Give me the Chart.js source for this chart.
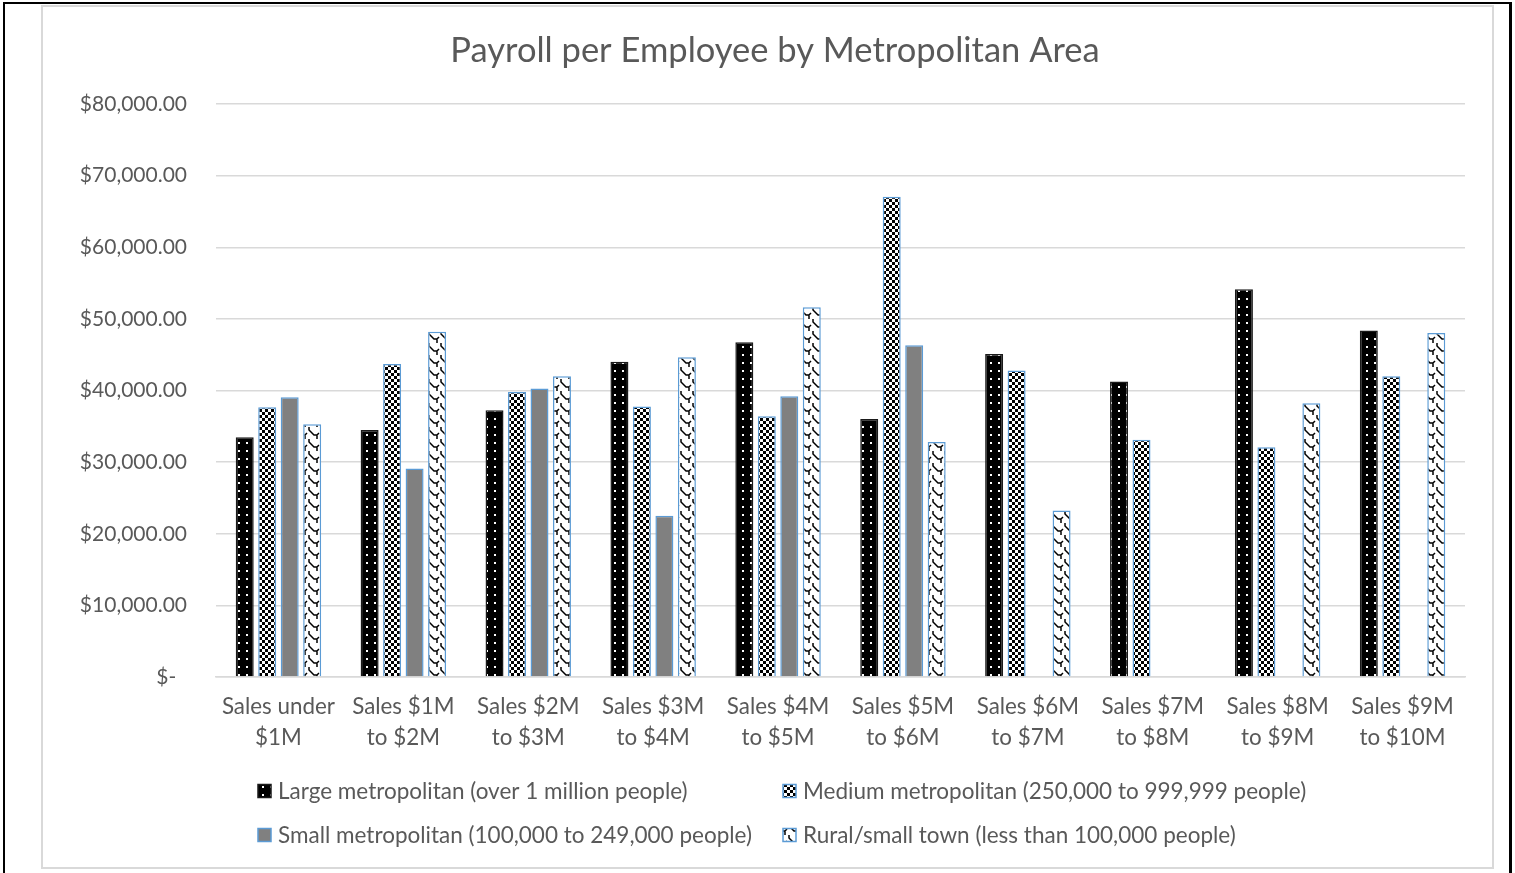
<!DOCTYPE html>
<html>
<head>
<meta charset="utf-8">
<script src="https://cdn.jsdelivr.net/npm/chart.js@4/dist/chart.umd.min.js"></script>
<style>
  html, body { margin: 0; padding: 0; background: #fff; }
  body { width: 1515px; height: 873px; position: relative; overflow: hidden; }
  #page-frame {
    position: absolute; left: 3px; top: 2px; width: 1504px; height: 900px;
    border-top: 2px solid #000; border-left: 2px solid #000; border-right: 3px solid #000;
  }
  #chart-box {
    position: absolute; left: 41px; top: 5px; width: 1449px; height: 860px;
    border: 2px solid #d9d9d9; background: #fff;
  }
  #chart-box canvas { display: block; }
</style>
</head>
<body>
<div id="page-frame"></div>
<div id="chart-box"><canvas id="payChart" width="1449" height="860"></canvas></div>
<script>
// categories and series
const categories = [
  ['Sales under', '$1M'], ['Sales $1M', 'to $2M'], ['Sales $2M', 'to $3M'],
  ['Sales $3M', 'to $4M'], ['Sales $4M', 'to $5M'], ['Sales $5M', 'to $6M'],
  ['Sales $6M', 'to $7M'], ['Sales $7M', 'to $8M'], ['Sales $8M', 'to $9M'],
  ['Sales $9M', 'to $10M']
];
const seriesNames = [
  'Large metropolitan (over 1 million people)',
  'Medium metropolitan (250,000 to 999,999 people)',
  'Small metropolitan (100,000 to 249,000 people)',
  'Rural/small town (less than 100,000 people)'
];
const largeMetro  = [33470, 34500, 37240, 44030, 46730, 36030, 45110, 41240, 54130, 48370];
const mediumMetro = [37650, 43700, 39800, 37750, 36400, 67040, 42780, 33140, 32070, 41980];
const smallMetro  = [39050, 29100, 40270, 22530, 39190, 46310, null, null, null, null];
const ruralTown   = [35290, 48200, 42000, 44640, 51620, 32820, 23230, null, 38210, 48040];
const yTicks = [0, 10000, 20000, 30000, 40000, 50000, 60000, 70000, 80000];

const chartTitle = 'Payroll per Employee by Metropolitan Area';
const textColor = '#595959';
const fontFamily = 'Lato, "Open Sans", sans-serif';
const edgeBlue = '#5b9bd5';

// little fill patterns
function makeTile(w, h, draw) {
  const c = document.createElement('canvas');
  c.width = w; c.height = h;
  const g = c.getContext('2d');
  draw(g, w, h);
  return document.getElementById('payChart').getContext('2d').createPattern(c, 'repeat');
}
const dotFill = makeTile(8, 8, (g) => {
  g.fillStyle = '#000'; g.fillRect(0, 0, 8, 8);
  g.fillStyle = '#fff'; g.fillRect(3, 3, 2, 2);
});
const checkFill = makeTile(6, 6, (g) => {
  g.fillStyle = '#fff'; g.fillRect(0, 0, 6, 6);
  g.fillStyle = '#000'; g.fillRect(0, 0, 3, 3); g.fillRect(3, 3, 3, 3);
});
const waveFill = makeTile(12, 12, (g) => {
  g.fillStyle = '#fff'; g.fillRect(0, 0, 12, 12);
  g.strokeStyle = '#000'; g.lineWidth = 1.5;
  g.beginPath();
  g.moveTo(2, 0); g.lineTo(2, 3); g.lineTo(7, 8); g.lineTo(10, 8); g.lineTo(12, 6);
  g.moveTo(0, 6); g.lineTo(-2, 8);
  g.moveTo(10, 8); g.lineTo(10, 12);
  g.stroke();
});

const fills = [dotFill, checkFill, '#808080', waveFill];
const edges = ['#1a1a1a', edgeBlue, edgeBlue, edgeBlue];
const values = [largeMetro, mediumMetro, smallMetro, ruralTown];

// title on top, two-column legend under the axis
const chartText = {
  id: 'chartText',
  afterDraw(chart) {
    const ctx = chart.ctx;
    ctx.save();
    ctx.fillStyle = textColor;
    ctx.font = '34.5px ' + fontFamily;
    ctx.textAlign = 'center';
    ctx.textBaseline = 'middle';
    ctx.fillText(chartTitle, 732, 44);

    const colX = [215, 740];
    const rowY = [784, 828];
    ctx.font = '22.5px ' + fontFamily;
    ctx.textAlign = 'left';
    chart.data.datasets.forEach((ds, i) => {
      const x = colX[i % 2], y = rowY[Math.floor(i / 2)];
      ctx.fillStyle = ds.backgroundColor;
      ctx.fillRect(x, y - 6.5, 13, 13);
      ctx.strokeStyle = ds.borderColor;
      ctx.lineWidth = 1.5;
      ctx.strokeRect(x, y - 6.5, 13, 13);
      ctx.fillStyle = textColor;
      ctx.fillText(ds.label, x + 20, y + 1);
    });
    ctx.restore();
  }
};

new Chart(document.getElementById('payChart'), {
  type: 'bar',
  data: {
    labels: categories,
    datasets: seriesNames.map((name, i) => ({
      label: name,
      data: values[i],
      backgroundColor: fills[i],
      borderColor: edges[i],
      borderWidth: 1.5,
      categoryPercentage: 0.72,
      barPercentage: 0.8
    }))
  },
  options: {
    responsive: false,
    animation: false,
    layout: { padding: { left: 0, right: 27, top: 97, bottom: 100 } },
    plugins: {
      legend: { display: false },
      tooltip: { enabled: false },
      title: { display: false }
    },
    scales: {
      x: {
        grid: { display: false, drawTicks: false },
        border: { display: true, color: '#d9d9d9', width: 1.5 },
        ticks: {
          color: textColor,
          font: { family: fontFamily, size: 22.4, lineHeight: 1.36 },
          padding: 15,
          maxRotation: 0,
          autoSkip: false
        },
        afterFit(scale) { scale.height = 90; }
      },
      y: {
        min: 0,
        max: 80000,
        afterBuildTicks(scale) { scale.ticks = yTicks.map(v => ({ value: v })); },
        grid: { color: '#d9d9d9', lineWidth: 1.5, drawTicks: false },
        border: { display: false },
        ticks: {
          color: textColor,
          font: { family: fontFamily, size: 21 },
          padding: 29,
          callback: (v) => v === 0 ? '$-  ' :
            '$' + v.toLocaleString('en-US', { minimumFractionDigits: 2, maximumFractionDigits: 2 })
        },
        afterFit(scale) { scale.width = 173; }
      }
    }
  },
  plugins: [chartText]
});
</script>
</body>
</html>
